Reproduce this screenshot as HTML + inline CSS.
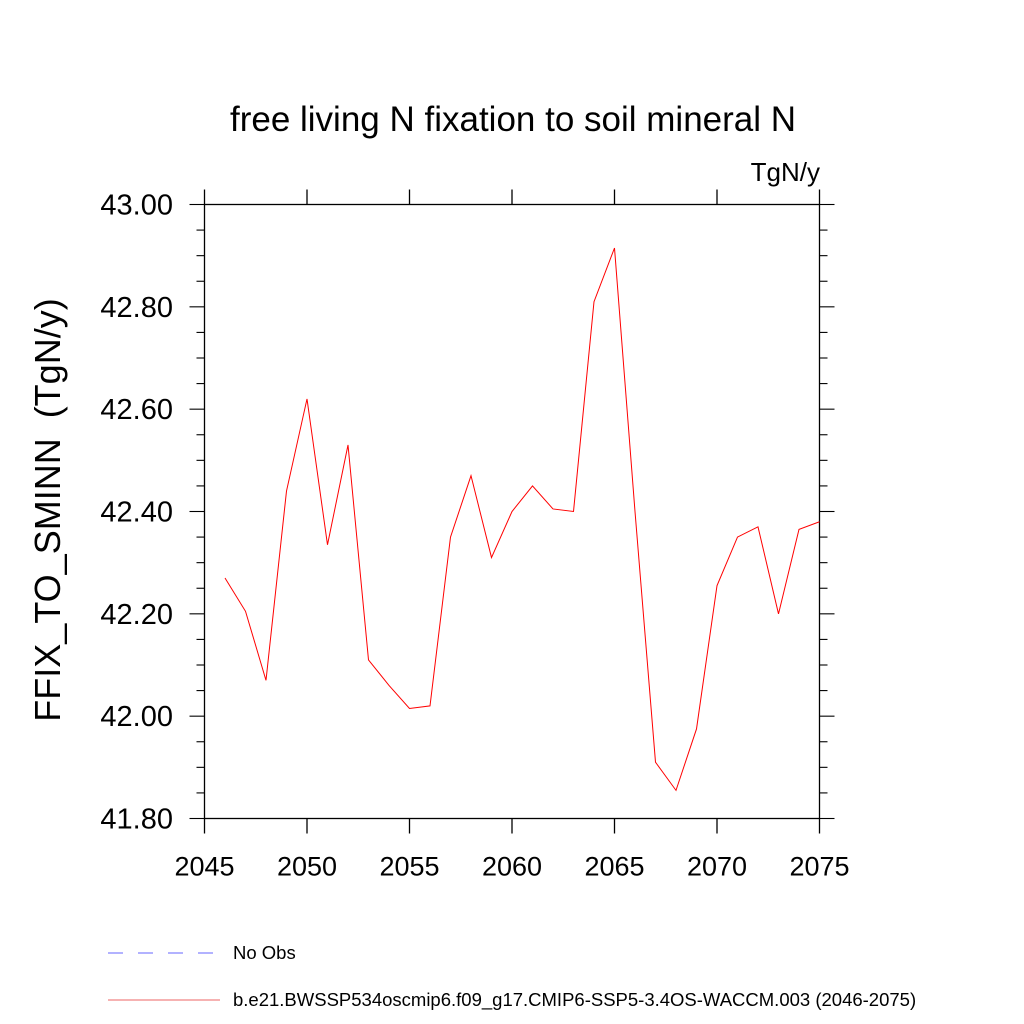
<!DOCTYPE html>
<html><head><meta charset="utf-8"><style>
html,body{margin:0;padding:0;background:#fff;}
svg{display:block;font-family:"Liberation Sans",sans-serif;}
</style></head><body>
<svg id="chart" width="1024" height="1024" xmlns="http://www.w3.org/2000/svg">
<text x="513" y="131" font-size="35" text-anchor="middle">free living N fixation to soil mineral N</text>
<text x="820" y="181" font-size="26" text-anchor="end">TgN/y</text>
<text transform="translate(60,510) rotate(-90)" font-size="36" text-anchor="middle" xml:space="preserve" style="white-space:pre">FFIX_TO_SMINN  (TgN/y)</text>
<g id="axes"></g>
<g id="series"></g>
<g>
<line x1="108" y1="953" x2="218" y2="953" stroke="#6666ff" stroke-width="1" stroke-dasharray="15,15"/>
<text x="233" y="959" font-size="18.5">No Obs</text>
<line x1="108" y1="1000" x2="220" y2="1000" stroke="#e66" stroke-width="1"/>
<text x="233" y="1006" font-size="18.5">b.e21.BWSSP534oscmip6.f09_g17.CMIP6-SSP5-3.4OS-WACCM.003 (2046-2075)</text>
</g>
</svg>
<script>
const years=[2046,2047,2048,2049,2050,2051,2052,2053,2054,2055,2056,2057,2058,2059,2060,2061,2062,2063,2064,2065,2066,2067,2068,2069,2070,2071,2072,2073,2074,2075];
const values=[42.27,42.205,42.07,42.44,42.62,42.335,42.53,42.11,42.06,42.015,42.02,42.35,42.47,42.31,42.40,42.45,42.405,42.40,42.81,42.915,42.40,41.91,41.855,41.975,42.255,42.35,42.37,42.20,42.365,42.38];
const xTicks=[2045,2050,2055,2060,2065,2070,2075];
const yTicks=[41.8,42.0,42.2,42.4,42.6,42.8,43.0];
const yTickLabels=["41.80","42.00","42.20","42.40","42.60","42.80","43.00"];
const NS="http://www.w3.org/2000/svg";
const L=204.5,R=819.5,T=204.5,B=818.5;
const X=v=>L+(v-2045)/30*(R-L);
const Y=v=>B-(v-41.8)/1.2*(B-T);
function mk(tag,attrs,parent){const e=document.createElementNS(NS,tag);for(const k in attrs)e.setAttribute(k,attrs[k]);parent.appendChild(e);return e;}
const ax=document.getElementById('axes');
const fr=mk('rect',{x:L,y:T,width:R-L,height:B-T,fill:'none',stroke:'#000','stroke-width':1.3},ax);


xTicks.forEach(t=>{
  const x=X(t);
  mk('line',{x1:x,y1:B,x2:x,y2:B+15,stroke:'#000','stroke-width':1.3},ax);
  mk('line',{x1:x,y1:T,x2:x,y2:T-15,stroke:'#000','stroke-width':1.3},ax);
  const tx=mk('text',{x:x,y:B+57,'font-size':27,'text-anchor':'middle'},ax);
  tx.textContent=t;
  
  
});
for(let i=0;i<=24;i++){
  const v=41.8+i*0.05,y=Y(v),maj=i%4===0,len=maj?15:8;
  mk('line',{x1:L,y1:y,x2:L-len,y2:y,stroke:'#000','stroke-width':1.1},ax);
  mk('line',{x1:R,y1:y,x2:R+len,y2:y,stroke:'#000','stroke-width':1.1},ax);
}
yTicks.forEach((t,i)=>{
  const tx=mk('text',{x:173,y:Y(t)+10,'font-size':29,'text-anchor':'end'},ax);
  tx.textContent=yTickLabels[i];
  
  
});
const s=document.getElementById('series');
const pl=mk('polyline',{points:years.map((yr,i)=>X(yr)+','+Y(values[i])).join(' '),fill:'none',stroke:'#ff0000','stroke-width':1},s);


</script>
</body></html>
